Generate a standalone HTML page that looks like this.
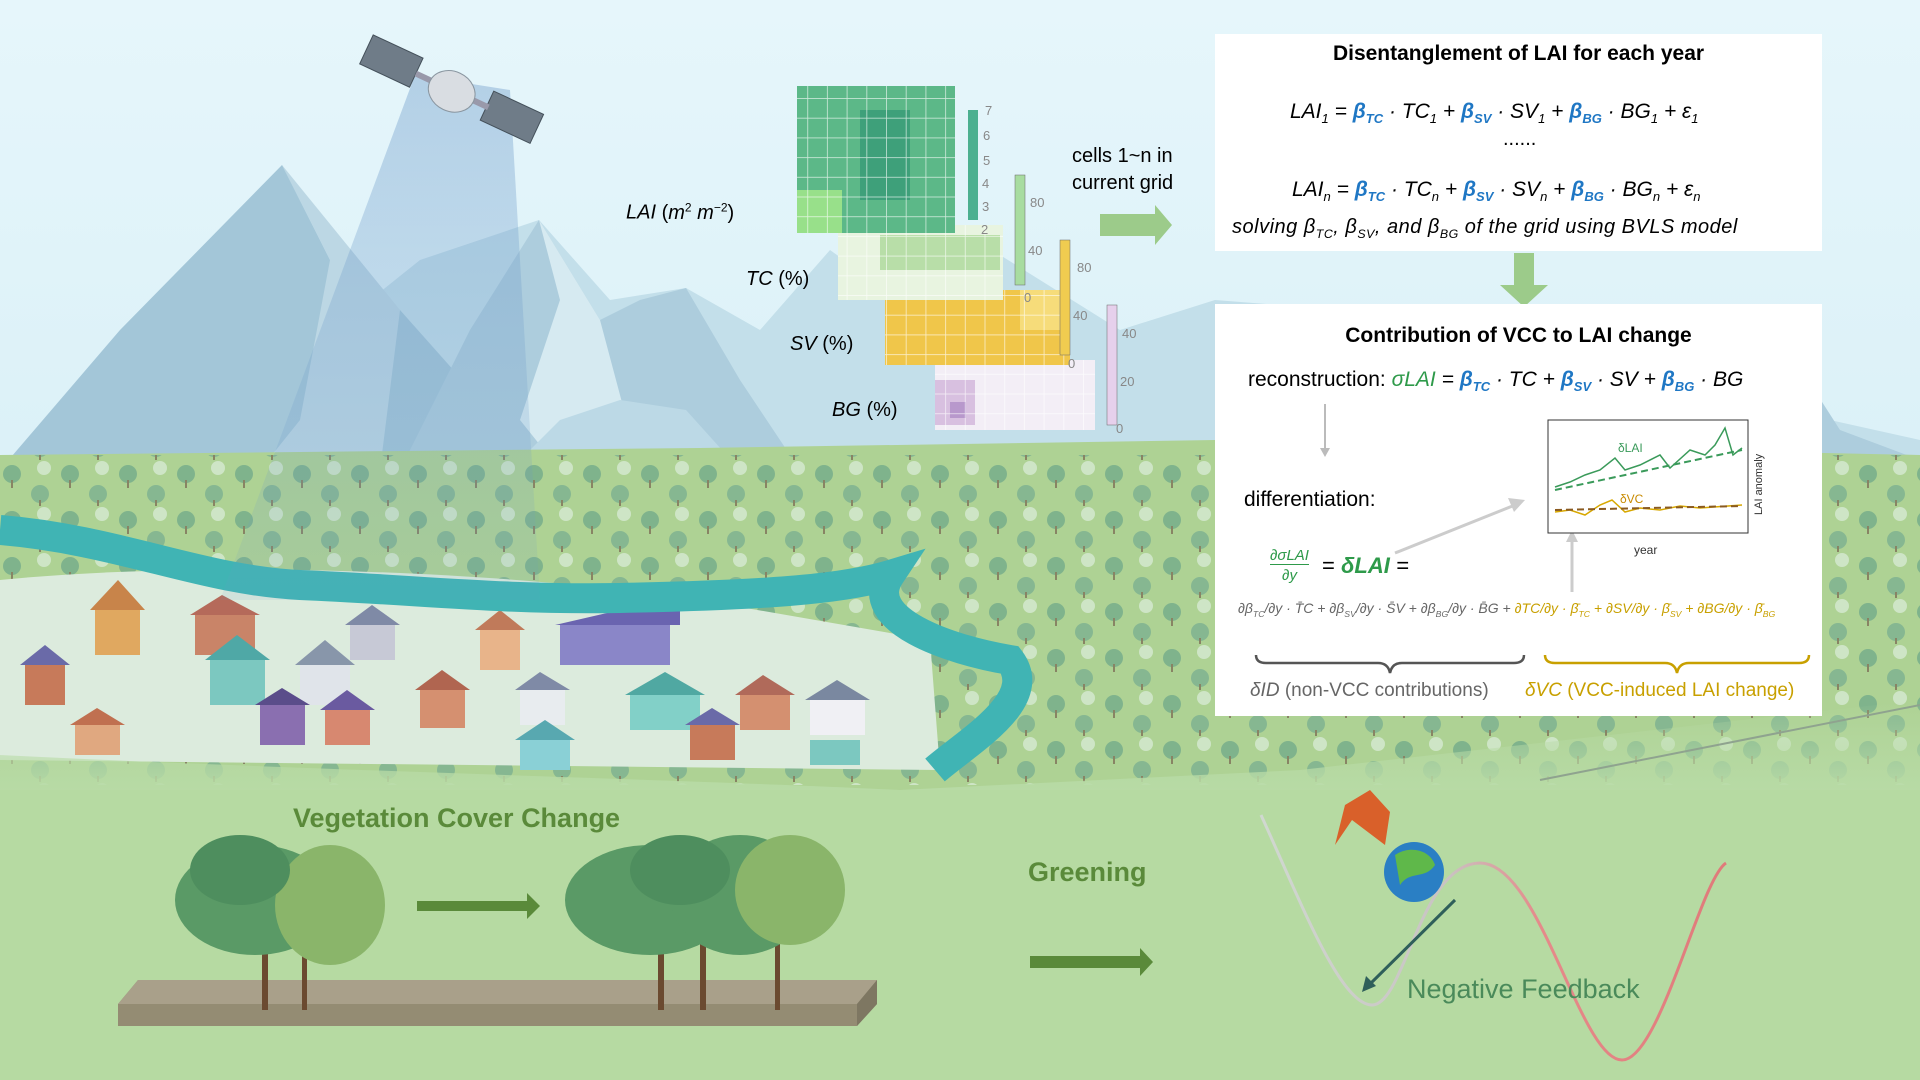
<!DOCTYPE html>
<html><head><meta charset="utf-8"><style>
body{margin:0;width:1920px;height:1080px;overflow:hidden;font-family:"Liberation Sans",sans-serif;}
.wrap{position:relative;width:1920px;height:1080px;}
svg{position:absolute;left:0;top:0}
.box{position:absolute;background:#fff;left:1215px;width:607px;}
.t{position:absolute;white-space:nowrap;}
.it{font-style:italic}
.b{color:#1f77c4;font-style:italic;font-weight:bold}
.g{color:#2e9a4a}
.y{color:#c8a000}
sub{font-size:62%}
</style></head><body><div class="wrap">
<svg width="1920" height="1080" viewBox="0 0 1920 1080">
<defs>
<linearGradient id="sky" x1="0" y1="0" x2="0" y2="1"><stop offset="0" stop-color="#e6f6fb"/><stop offset="1" stop-color="#cdeaf3"/></linearGradient>
<linearGradient id="low" x1="0" y1="0" x2="0" y2="1"><stop offset="0" stop-color="#b8dba6" stop-opacity="0"/><stop offset="0.25" stop-color="#b8dba6"/><stop offset="1" stop-color="#b6daa2"/></linearGradient>
<linearGradient id="beam" x1="0" y1="0" x2="0" y2="1"><stop offset="0" stop-color="#6a98c8" stop-opacity="0.4"/><stop offset="1" stop-color="#6a98c8" stop-opacity="0.1"/></linearGradient>
<linearGradient id="wave" x1="0" y1="0" x2="1" y2="0"><stop offset="0" stop-color="#d0d8d0"/><stop offset="0.4" stop-color="#c9c3c3"/><stop offset="0.6" stop-color="#e58a8a"/><stop offset="1" stop-color="#e07a7a"/></linearGradient>
<pattern id="trees" width="58" height="46" patternUnits="userSpaceOnUse">
<circle cx="12" cy="14" r="9" fill="#6fa88a"/><rect x="11" y="20" width="2" height="8" fill="#7b6a54"/>
<circle cx="40" cy="34" r="9" fill="#78ae90"/><rect x="39" y="40" width="2" height="6" fill="#7b6a54"/>
<circle cx="44" cy="8" r="7" fill="#d9ebd6"/>
</pattern>
</defs>
<rect width="1920" height="1080" fill="url(#sky)"/>
<!-- far mountains -->
<polygon points="0,470 80,380 180,400 282,165 370,300 420,260 539,220 610,300 686,288 760,330 830,250 900,300 960,230 1040,280 1120,330 1215,300 1600,330 1776,330 1830,420 1920,440 1920,480 0,480" fill="#c3dfea"/>
<polygon points="0,470 120,330 282,165 330,260 400,310 480,400 560,470" fill="#a3c6d8"/>
<polygon points="282,165 330,260 300,420 260,470 380,470 400,310" fill="#bcd7e4"/>
<polygon points="400,470 470,330 539,220 600,320 640,300 686,288 740,380 800,470" fill="#adcddd"/>
<polygon points="539,220 560,300 520,420 560,470 640,470 600,320" fill="#d6eaf1"/>
<polygon points="480,540 520,460 560,420 620,400 686,410 740,470 860,540" fill="#bcd9e6"/>
<polygon points="1700,400 1776,330 1840,430 1920,460 1700,460" fill="#adcddd"/>
<!-- green band -->
<polygon points="0,455 300,452 700,448 1215,440 1920,455 1920,1080 0,1080" fill="#aed294"/>
<rect x="0" y="455" width="1920" height="330" fill="url(#trees)" opacity="0.75"/>
<!-- village -->
<path d="M0,580 C200,560 500,570 700,600 L930,640 L940,770 L0,760 Z" fill="#dcebdd"/>
<g>
<rect x="25" y="665" width="40" height="40" fill="#c77a5a"/><polygon points="20,665 45,645 70,665" fill="#6a6aa8"/>
<rect x="95" y="610" width="45" height="45" fill="#e0a860"/><polygon points="90,610 118,580 145,610" fill="#c8844a"/>
<rect x="195" y="615" width="60" height="40" fill="#c98468"/><polygon points="190,615 222,595 260,615" fill="#b56a5a"/>
<rect x="210" y="660" width="55" height="45" fill="#7cc8c0"/><polygon points="205,660 237,635 270,660" fill="#4fa8a6"/>
<rect x="300" y="665" width="50" height="40" fill="#e0e4ea"/><polygon points="295,665 325,640 355,665" fill="#8896aa"/>
<rect x="350" y="625" width="45" height="35" fill="#c7c9d6"/><polygon points="345,625 372,605 400,625" fill="#7f8aa6"/>
<rect x="480" y="630" width="40" height="40" fill="#e8b48a"/><polygon points="475,630 500,610 525,630" fill="#c07a5a"/>
<rect x="560" y="625" width="110" height="40" fill="#8a86c8"/><polygon points="555,625 620,610 680,600 680,625" fill="#6a64b0"/>
<rect x="420" y="690" width="45" height="38" fill="#d59070"/><polygon points="415,690 442,670 470,690" fill="#b06550"/>
<rect x="520" y="690" width="45" height="35" fill="#e8ecef"/><polygon points="515,690 540,672 570,690" fill="#7f8aa6"/>
<rect x="630" y="695" width="70" height="35" fill="#82d0c8"/><polygon points="625,695 665,672 705,695" fill="#50a8a2"/>
<rect x="260" y="705" width="45" height="40" fill="#8a6fb0"/><polygon points="255,705 282,688 310,705" fill="#5a4d8a"/>
<rect x="325" y="710" width="45" height="35" fill="#d78870"/><polygon points="320,710 347,690 375,710" fill="#6a5aa0"/>
<rect x="740" y="695" width="50" height="35" fill="#d49070"/><polygon points="735,695 763,675 795,695" fill="#b06a5a"/>
<rect x="810" y="700" width="55" height="35" fill="#f0f0f4"/><polygon points="805,700 837,680 870,700" fill="#7a88a0"/>
<rect x="690" y="725" width="45" height="35" fill="#c77a5a"/><polygon points="685,725 712,708 740,725" fill="#6a6aa8"/>
<rect x="520" y="740" width="50" height="30" fill="#8ad0d6"/><polygon points="515,740 545,720 575,740" fill="#58a8b0"/>
<rect x="75" y="725" width="45" height="30" fill="#e0a880"/><polygon points="70,725 97,708 125,725" fill="#c07050"/>
<rect x="810" y="740" width="50" height="25" fill="#7cc8c0"/>
</g>
<!-- river -->
<path d="M0,530 C120,540 200,580 300,585 C420,590 500,600 620,598 C760,595 840,590 890,575 C860,620 950,650 1010,660 C1040,700 970,740 935,770" fill="none" stroke="#40b4b4" stroke-width="30"/>
<!-- beam -->
<polygon points="415,75 510,90 540,600 220,600" fill="url(#beam)"/>
<!-- satellite -->
<g transform="translate(450,95) rotate(25)">
<rect x="-95" y="-22" width="55" height="32" fill="#6f7c88" stroke="#44505a"/>
<rect x="38" y="-22" width="55" height="32" fill="#6f7c88" stroke="#44505a"/>
<rect x="-40" y="-8" width="80" height="6" fill="#99a"/>
<ellipse cx="0" cy="-4" rx="24" ry="20" fill="#d9dde2" stroke="#8a96a0"/>
</g>
<!-- lower ground -->
<path d="M0,755 C300,770 700,780 900,790 L1300,770 L1920,700 L1920,1080 L0,1080 Z" fill="url(#low)"/>
<rect x="0" y="790" width="1920" height="290" fill="#b6daa2"/>
<line x1="1540" y1="780" x2="1920" y2="705" stroke="#8fa38f" stroke-width="2"/>
<!-- slab -->
<polygon points="118,1004 138,980 877,980 877,1004 857,1026 118,1026" fill="#948c73"/>
<polygon points="118,1004 138,980 877,980 857,1004" fill="#a9a08a"/>
<polygon points="857,1004 877,980 877,1004 857,1026" fill="#7e7762"/>
<!-- trees -->
<g fill="#5a9a66">
<rect x="262" y="920" width="6" height="90" fill="#6b4a30"/><rect x="302" y="930" width="5" height="80" fill="#6b4a30"/>
<ellipse cx="255" cy="900" rx="80" ry="55"/><ellipse cx="330" cy="905" rx="55" ry="60" fill="#8ab56a"/><ellipse cx="240" cy="870" rx="50" ry="35" fill="#4e8e5e"/>
<rect x="658" y="920" width="6" height="90" fill="#6b4a30"/><rect x="700" y="930" width="6" height="80" fill="#6b4a30"/><rect x="775" y="930" width="5" height="80" fill="#6b4a30"/>
<ellipse cx="650" cy="900" rx="85" ry="55"/><ellipse cx="740" cy="895" rx="70" ry="60"/><ellipse cx="790" cy="890" rx="55" ry="55" fill="#8ab56a"/><ellipse cx="680" cy="870" rx="50" ry="35" fill="#4e8e5e"/>
</g>
<!-- arrows -->
<polygon points="417,901 527,901 527,893 540,906 527,919 527,911 417,911" fill="#5a8a3a"/>
<polygon points="1030,956 1140,956 1140,948 1153,962 1140,976 1140,968 1030,968" fill="#5a8a3a"/>
<polygon points="1100,214 1155,214 1155,205 1172,225 1155,245 1155,236 1100,236" fill="#9ccb8a"/>
<polygon points="1514,253 1534,253 1534,285 1548,285 1524,307 1500,285 1514,285" fill="#9ccb8a"/>
<!-- wave -->
<path d="M1261,815 C1300,900 1340,1005 1372,1005 C1405,1005 1420,863 1480,863 C1540,863 1580,1060 1622,1060 C1660,1060 1700,880 1726,863" fill="none" stroke="url(#wave)" stroke-width="3"/>
<polygon points="1335,845 1352,820 1385,845 1390,812 1370,790 1345,805" fill="#d9602a"/>
<circle cx="1414" cy="872" r="30" fill="#2a7fc4"/><path d="M1395,855 C1410,845 1430,850 1435,865 C1425,880 1410,870 1400,885 Z" fill="#5fb84a"/>
<line x1="1455" y1="900" x2="1368" y2="986" stroke="#2f5f5a" stroke-width="3"/>
<polygon points="1362,992 1366,976 1376,986" fill="#2f5f5a"/>
</svg>

<!-- grids -->
<svg width="1920" height="1080" style="pointer-events:none">
<defs>
<pattern id="cell" width="19.7" height="19.7" patternUnits="userSpaceOnUse"><rect width="19.7" height="19.7" fill="none" stroke="#fff" stroke-width="0.8" opacity="0.7"/></pattern>
</defs>
<rect x="935" y="360" width="160" height="70" fill="#f3eef6"/>
<rect x="935" y="380" width="40" height="45" fill="#d8c0e0"/><rect x="950" y="402" width="16" height="16" fill="#b898cc"/>
<rect x="935" y="360" width="160" height="70" fill="url(#cell)"/>
<rect x="885" y="290" width="185" height="75" fill="#f0c64a"/><rect x="1020" y="290" width="50" height="40" fill="#f6dc7a"/>
<rect x="885" y="290" width="185" height="75" fill="url(#cell)"/>
<rect x="838" y="225" width="165" height="75" fill="#e8f4e0"/><rect x="880" y="235" width="120" height="35" fill="#b8dea8"/>
<rect x="838" y="225" width="165" height="75" fill="url(#cell)"/>
<rect x="797" y="86" width="158" height="147" fill="#5cb888"/><rect x="797" y="190" width="45" height="43" fill="#98e08a"/><rect x="860" y="110" width="50" height="90" fill="#3ea07a"/>
<rect x="797" y="86" width="158" height="147" fill="url(#cell)"/>
<rect x="968" y="110" width="10" height="110" fill="#4cb090"/>
<rect x="1015" y="175" width="10" height="110" fill="#a8dca0" stroke="#666" stroke-width="0.5"/>
<rect x="1060" y="240" width="10" height="115" fill="#f0cc50" stroke="#666" stroke-width="0.5"/>
<rect x="1107" y="305" width="10" height="120" fill="#e6d0ec" stroke="#666" stroke-width="0.5"/>
<g font-family="Liberation Sans" font-size="13" fill="#888">
<text x="985" y="115">7</text><text x="983" y="140">6</text><text x="983" y="165">5</text><text x="982" y="188">4</text><text x="982" y="211">3</text><text x="981" y="234">2</text>
<text x="1030" y="207">80</text><text x="1028" y="255">40</text><text x="1024" y="302">0</text>
<text x="1077" y="272">80</text><text x="1073" y="320">40</text><text x="1068" y="368">0</text>
<text x="1122" y="338">40</text><text x="1120" y="386">20</text><text x="1116" y="433">0</text>
</g>
</svg>
<div class="t it" style="left:626px;top:200px;font-size:20px">LAI <span style="font-style:normal">(<i>m</i><sup style="font-size:12px">2</sup> <i>m</i><sup style="font-size:12px">−2</sup>)</span></div>
<div class="t" style="left:746px;top:268px;font-size:20px"><i>TC</i> (%)</div>
<div class="t" style="left:790px;top:333px;font-size:20px"><i>SV</i> (%)</div>
<div class="t" style="left:832px;top:399px;font-size:20px"><i>BG</i> (%)</div>
<div class="t" style="left:1072px;top:143px;font-size:20px;line-height:27px">cells 1~n in<br>current grid</div>

<div class="box" style="top:34px;height:217px"></div>
<div class="t" style="left:1215px;width:607px;text-align:center;top:42px;font-size:21px;font-weight:bold">Disentanglement of LAI for each year</div>
<div class="t it" style="left:1290px;top:100px;font-size:21px">LAI<sub>1</sub> = <span class="b">β<sub>TC</sub></span> · TC<sub>1</sub> + <span class="b">β<sub>SV</sub></span> · SV<sub>1</sub> + <span class="b">β<sub>BG</sub></span> · BG<sub>1</sub> + ε<sub>1</sub></div>
<div class="t" style="left:1503px;top:128px;font-size:20px">......</div>
<div class="t it" style="left:1292px;top:178px;font-size:21px">LAI<sub>n</sub> = <span class="b">β<sub>TC</sub></span> · TC<sub>n</sub> + <span class="b">β<sub>SV</sub></span> · SV<sub>n</sub> + <span class="b">β<sub>BG</sub></span> · BG<sub>n</sub> + ε<sub>n</sub></div>
<div class="t it" style="left:1232px;top:216px;font-size:20px;letter-spacing:0.5px">solving β<sub>TC</sub>, β<sub>SV</sub>, and β<sub>BG</sub> of the grid using BVLS model</div>

<div class="box" style="top:304px;height:412px"></div>
<div class="t" style="left:1215px;width:607px;text-align:center;top:324px;font-size:21px;font-weight:bold">Contribution of VCC to LAI change</div>
<div class="t" style="left:1248px;top:368px;font-size:21px">reconstruction: <i class="g">σLAI</i> <i>= </i><span class="b">β<sub>TC</sub></span><i> · TC + </i><span class="b">β<sub>SV</sub></span><i> · SV + </i><span class="b">β<sub>BG</sub></span><i> · BG</i></div>
<div class="t" style="left:1244px;top:488px;font-size:21px">differentiation:</div>
<div class="t it g" style="left:1270px;top:546px;font-size:15px;text-align:center;line-height:20px"><span style="border-bottom:1.5px solid #2e9a4a">∂σLAI</span><br>∂y</div>
<div class="t it" style="left:1322px;top:553px;font-size:22px"><span style="font-style:normal">=</span> <b class="g">δLAI</b> =</div>
<div class="t it" style="left:1238px;top:600px;font-size:14px;color:#666">∂β<sub>TC</sub>/∂y · T̄C + ∂β<sub>SV</sub>/∂y · S̄V + ∂β<sub>BG</sub>/∂y · B̄G + <span class="y">∂TC/∂y · β̄<sub>TC</sub> + ∂SV/∂y · β̄<sub>SV</sub> + ∂BG/∂y · β̄<sub>BG</sub></span></div>
<svg width="1920" height="1080">
<path d="M1256,655 q0,8 10,8 h112 q10,0 12,10 q2,-10 12,-10 h112 q10,0 10,-8" fill="none" stroke="#555" stroke-width="2.5"/>
<path d="M1545,655 q0,8 10,8 h110 q10,0 12,10 q2,-10 12,-10 h110 q10,0 10,-8" fill="none" stroke="#c8a000" stroke-width="2.5"/>
<line x1="1325" y1="404" x2="1325" y2="450" stroke="#bbb" stroke-width="2"/><polygon points="1320,448 1330,448 1325,457" fill="#bbb"/>
<line x1="1395" y1="553" x2="1515" y2="505" stroke="#ccc" stroke-width="3"/><polygon points="1525,500 1508,498 1514,512" fill="#ccc"/>
<line x1="1572" y1="592" x2="1572" y2="540" stroke="#ccc" stroke-width="3"/><polygon points="1566,542 1578,542 1572,530" fill="#ccc"/>
<rect x="1548" y="420" width="200" height="113" fill="#fff" stroke="#333" stroke-width="1"/>
<polyline points="1555,487 1570,482 1585,475 1600,470 1615,458 1625,470 1640,465 1660,455 1670,468 1690,450 1705,455 1715,445 1725,428 1733,455 1742,448" fill="none" stroke="#3a9a5a" stroke-width="1.5"/>
<line x1="1555" y1="490" x2="1742" y2="450" stroke="#3a9a5a" stroke-width="2" stroke-dasharray="7,4"/>
<polyline points="1555,512 1570,510 1585,515 1600,505 1612,500 1625,512 1640,508 1660,510 1680,506 1700,508 1742,505" fill="none" stroke="#d8a800" stroke-width="1.5"/>
<line x1="1555" y1="510" x2="1742" y2="506" stroke="#8a5a20" stroke-width="2" stroke-dasharray="7,4"/>
<text x="1618" y="452" font-size="12" fill="#3a9a5a" font-family="Liberation Sans">δLAI</text>
<text x="1620" y="503" font-size="12" fill="#c88a00" font-family="Liberation Sans">δVC</text>
<text x="1634" y="554" font-size="12" fill="#333" font-family="Liberation Sans">year</text>
<text x="1762" y="515" font-size="11" fill="#333" font-family="Liberation Sans" transform="rotate(-90 1762 515)">LAI anomaly</text>
</svg>
<div class="t" style="left:1250px;top:680px;font-size:19px;color:#666"><i>δID</i> (non-VCC contributions)</div>
<div class="t y" style="left:1525px;top:680px;font-size:19px"><i>δVC</i> (VCC-induced LAI change)</div>

<div class="t" style="left:293px;top:803px;font-size:27px;font-weight:bold;color:#5a8a3a">Vegetation Cover Change</div>
<div class="t" style="left:1028px;top:857px;font-size:27px;font-weight:bold;color:#5a8a3a">Greening</div>
<div class="t" style="left:1407px;top:974px;font-size:27px;color:#4a8a5a">Negative Feedback</div>
</div></body></html>
